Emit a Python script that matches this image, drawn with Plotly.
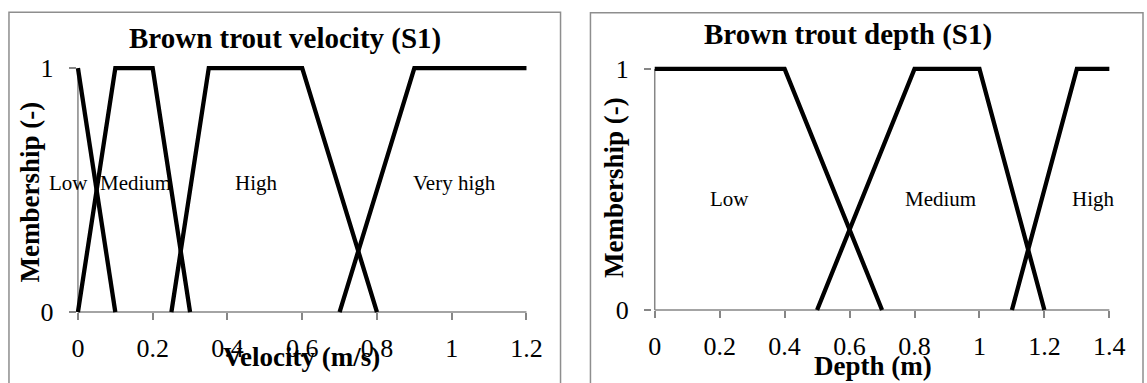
import plotly.graph_objects as go

W, H = 1147, 383

# ---------------- data ----------------
vel_titles = "Brown trout velocity (S1)"
dep_titles = "Brown trout depth (S1)"

vel_low_x = [0, 0.1]
vel_low_y = [1, 0]
vel_med_x = [0, 0.1, 0.2, 0.3]
vel_med_y = [0, 1, 1, 0]
vel_high_x = [0.25, 0.35, 0.6, 0.8]
vel_high_y = [0, 1, 1, 0]
vel_vhigh_x = [0.7, 0.9, 1.2]
vel_vhigh_y = [0, 1, 1]

dep_low_x = [0, 0.4, 0.7]
dep_low_y = [1, 1, 0]
dep_med_x = [0.5, 0.8, 1.0, 1.2]
dep_med_y = [0, 1, 1, 0]
dep_high_x = [1.1, 1.3, 1.4]
dep_high_y = [0, 1, 1]

vel_ticks = [0, 0.2, 0.4, 0.6, 0.8, 1, 1.2]
dep_ticks = [0, 0.2, 0.4, 0.6, 0.8, 1, 1.2, 1.4]
y_ticks = [0, 1]

vel_labels = ["Low", "Medium", "High", "Very high"]
vel_label_x = [-0.026, 0.153, 0.478, 1.007]
vel_label_y = 0.53
dep_labels = ["Low", "Medium", "High"]
dep_label_x = [0.23, 0.88, 1.35]
dep_label_y = 0.46

# ---------------- layout geometry (pixels) ----------------
def px(x):
    return x / W

def py(y):
    return 1 - y / H

FONT = "Liberation Serif, Times New Roman, serif"
AX = "#868686"
FRAME = "#8e8e8e"

L = dict(x0=76, x1=530, y0=315.5, y1=65.7, xmax=1.2)
R = dict(x0=652.7, x1=1116, y0=313.3, y1=66.5, xmax=1.4)
EX, EY = 0.03, 0.04

def dom(g):
    kx = (g["x1"] - g["x0"]) / g["xmax"]
    ky = (g["y0"] - g["y1"])
    xd = [px(g["x0"] - EX * kx), px(g["x1"] + EX * kx)]
    yd = [py(g["y0"] + EY * ky), py(g["y1"] - EY * ky)]
    return xd, yd

fig = go.Figure()

line = dict(color="black", width=4.3)
for xs, ys in [(vel_low_x, vel_low_y), (vel_med_x, vel_med_y),
               (vel_high_x, vel_high_y), (vel_vhigh_x, vel_vhigh_y)]:
    fig.add_trace(go.Scatter(x=xs, y=ys, mode="lines", line=line,
                             xaxis="x", yaxis="y", showlegend=False, hoverinfo="skip"))
for xs, ys in [(dep_low_x, dep_low_y), (dep_med_x, dep_med_y), (dep_high_x, dep_high_y)]:
    fig.add_trace(go.Scatter(x=xs, y=ys, mode="lines", line=line,
                             xaxis="x2", yaxis="y2", showlegend=False, hoverinfo="skip"))

lxd, lyd = dom(L)
rxd, ryd = dom(R)

tickfont = dict(family=FONT, size=26, color="black")
common_x = dict(showgrid=False, zeroline=False, showline=False, ticks="outside",
                ticklen=7, tickwidth=1.5, tickcolor=AX, tickfont=tickfont,
                fixedrange=True, anchor="free", tickmode="array", ticklabelstandoff=6)
common_y = dict(showgrid=False, zeroline=False, showline=False, ticks="outside",
                ticklen=7, tickwidth=1.5, tickcolor=AX, tickfont=tickfont,
                fixedrange=True, anchor="free", tickmode="array", ticklabelstandoff=10,
                range=[-EY, 1 + EY], tickvals=y_ticks, ticktext=[str(v) for v in y_ticks])

fig.update_layout(
    width=W, height=H, margin=dict(l=0, r=0, t=0, b=0),
    paper_bgcolor="white", plot_bgcolor="rgba(0,0,0,0)",
    xaxis=dict(common_x, domain=lxd, range=[-EX * L["xmax"], L["xmax"] * (1 + EX)],
               position=py(L["y0"]), tickvals=vel_ticks,
               ticktext=[f"{v:g}" for v in vel_ticks]),
    yaxis=dict(common_y, domain=lyd, position=px(L["x0"])),
    xaxis2=dict(common_x, domain=rxd, range=[-EX * R["xmax"], R["xmax"] * (1 + EX)],
                position=py(R["y0"]), tickvals=dep_ticks,
                ticktext=[f"{v:g}" for v in dep_ticks]),
    yaxis2=dict(common_y, domain=ryd, position=px(R["x0"])),
)

shapes = []
shapes.append(dict(type="rect", xref="paper", yref="paper", x0=px(9), x1=px(562),
                   y0=py(420), y1=py(8.5), line=dict(color=FRAME, width=1.5), layer="below"))
shapes.append(dict(type="rect", xref="paper", yref="paper", x0=px(592), x1=px(1146),
                   y0=py(420), y1=py(9), line=dict(color=FRAME, width=1.5), layer="below"))
for xr, yr, xmax in [("x", "y", L["xmax"]), ("x2", "y2", R["xmax"])]:
    shapes.append(dict(type="line", xref=xr, yref=yr, x0=0, x1=xmax, y0=0, y1=0,
                       line=dict(color=AX, width=1.5), layer="below"))
    shapes.append(dict(type="line", xref=xr, yref=yr, x0=0, x1=0, y0=0, y1=1,
                       line=dict(color=AX, width=1.5), layer="below"))
fig.update_layout(shapes=shapes)

ann = []
tfont = dict(family=FONT, size=29, color="black", weight="bold")
afont = dict(family=FONT, size=27, color="black", weight="bold")
lfont = dict(family=FONT, size=21, color="black")
ann.append(dict(text=vel_titles, x=px(285.5), y=py(35), xref="paper", yref="paper",
                showarrow=False, font=tfont, xanchor="center", yanchor="middle"))
ann.append(dict(text=dep_titles, x=px(850), y=py(31), xref="paper", yref="paper",
                showarrow=False, font=tfont, xanchor="center", yanchor="middle"))
ann.append(dict(text="Velocity (m/s)", x=px(302.5), y=py(362), xref="paper", yref="paper",
                showarrow=False, font=afont, xanchor="center", yanchor="middle"))
ann.append(dict(text="Depth (m)", x=px(875), y=py(371), xref="paper", yref="paper",
                showarrow=False, font=afont, xanchor="center", yanchor="middle"))
ann.append(dict(text="Membership (-)", x=px(31), y=py(192), xref="paper", yref="paper",
                showarrow=False, font=afont, textangle=-90, xanchor="center", yanchor="middle"))
ann.append(dict(text="Membership (-)", x=px(615), y=py(188), xref="paper", yref="paper",
                showarrow=False, font=afont, textangle=-90, xanchor="center", yanchor="middle"))
for t, xv in zip(vel_labels, vel_label_x):
    ann.append(dict(text=t, x=xv, y=vel_label_y, xref="x", yref="y", showarrow=False,
                    font=lfont, xanchor="center", yanchor="middle"))
for t, xv in zip(dep_labels, dep_label_x):
    ann.append(dict(text=t, x=xv, y=dep_label_y, xref="x2", yref="y2", showarrow=False,
                    font=lfont, xanchor="center", yanchor="middle"))
fig.update_layout(annotations=ann)

fig.write_html("out.html", config={"displayModeBar": False})
